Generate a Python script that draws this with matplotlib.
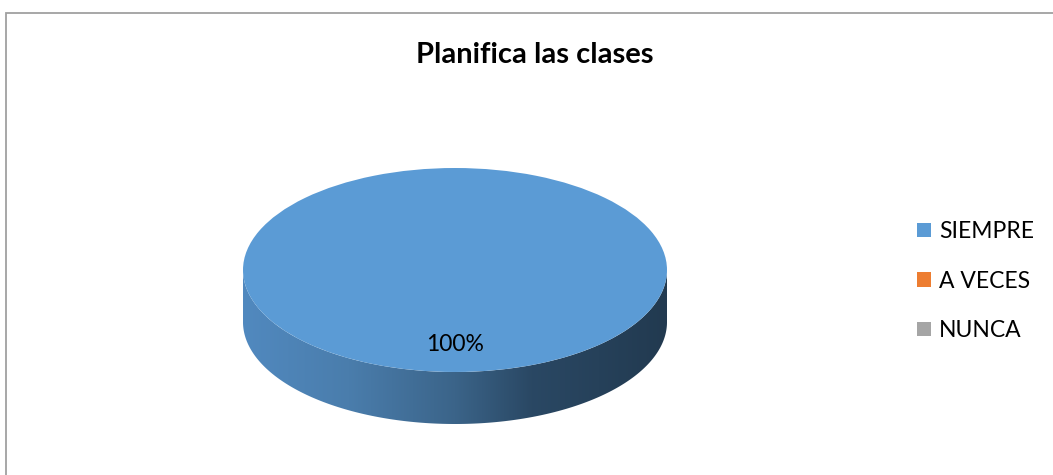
import numpy as np
import matplotlib.pyplot as plt
from matplotlib.colors import LinearSegmentedColormap
from matplotlib.patches import Polygon, Rectangle

plt.rcParams['font.family'] = ['Lato', 'DejaVu Sans']

title = 'Planifica las clases'
categories = ['SIEMPRE', 'A VECES', 'NUNCA']
values = [100, 0, 0]
colors = ['#5B9BD5', '#ED7D31', '#A5A5A5']

W, H = 1053, 475
fig = plt.figure(figsize=(W / 100, H / 100), dpi=100)

# marco del grafico (bordes derecho e inferior quedan fuera)
fig.patches.append(Rectangle((6 / W, -0.05), 1.1, 1 - 13 / H + 0.05, transform=fig.transFigure,
                             fill=False, edgecolor='#a0a0a0', linewidth=1.3))

depth = 0.51  # grosor del pastel 3d, en unidades del radio
ax = fig.add_axes([243 / W, 51 / H, 424 / W, (424 - 168) / H])

def pct(p):
    return f'{p:.0f}%' if p > 0 else ''

wedges, texts, autotexts = ax.pie(values, colors=colors, startangle=90, counterclock=False,
                                  autopct=pct, pctdistance=0.73,
                                  wedgeprops=dict(linewidth=0),
                                  textprops=dict(fontsize=16.5, color='black'))
ax.set_aspect('auto')

# lado del pastel: mitad frontal de cada porcion, extruida hacia abajo
cmap = LinearSegmentedColormap.from_list('side', [(0, '#5189bf'), (0.25, '#4a7dac'), (0.5, '#3b6489'),
                                                  (0.68, '#2a4864'), (1, '#223a50')])
for w in wedges:
    if w.theta2 - w.theta1 <= 0:
        continue
    t = np.radians(np.linspace(w.theta1, w.theta2, 720))
    t = np.sort(np.mod(t, 2 * np.pi))
    t = t[t >= np.pi]  # solo la parte visible (frente)
    if len(t) == 0:
        continue
    cx, cy = w.center
    xs = cx + w.r * np.cos(t)
    ys = cy + w.r * np.sin(t)
    pts = np.concatenate([np.c_[xs, ys], np.c_[xs[::-1], ys[::-1] - depth]])
    poly = Polygon(pts, closed=True, facecolor='none', edgecolor='none')
    ax.add_patch(poly)
    grad = np.linspace(0, 1, 256)[None, :]
    im = ax.imshow(grad, cmap=cmap, extent=[cx - w.r, cx + w.r, cy - w.r - depth, cy],
                   aspect='auto', zorder=0.5, interpolation='bilinear')
    im.set_clip_path(poly)
    w.set_zorder(1)
for t in autotexts:
    t.set_zorder(3)
ax.set_xlim(-1, 1)
ax.set_ylim(-1 - depth, 1)
ax.axis('off')

fig.text(535 / W, 1 - 55 / H, title, ha='center', va='center', fontsize=21, fontweight='bold')

fig.legend(wedges, categories, loc='center left', bbox_to_anchor=(917 / W, 1 - 281 / H),
           frameon=False, fontsize=16.5, handlelength=0.6, handleheight=0.6,
           handletextpad=0.35, labelspacing=1.25, borderpad=0, borderaxespad=0)

fig.savefig('out.png', dpi=100)
